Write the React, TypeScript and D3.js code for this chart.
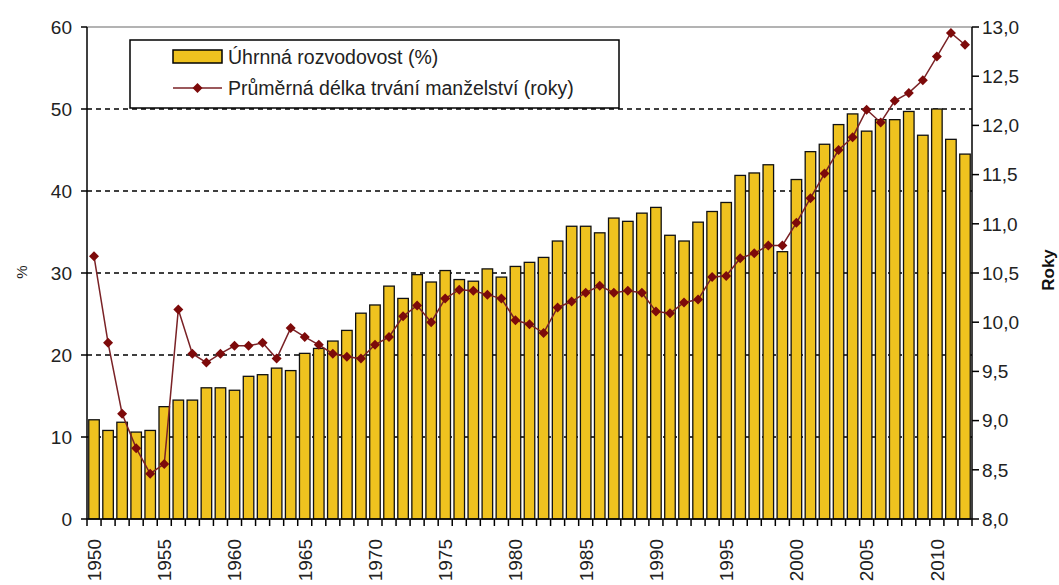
import * as d3 from "d3";

// categories: one per year
const years = d3.range(1950, 2013);

// Úhrnná rozvodovost (%), left axis
const divorceRate = [
  12.1, 10.8, 11.8, 10.6, 10.8, 13.7, 14.5, 14.5, 16.0, 16.0,
  15.7, 17.4, 17.6, 18.4, 18.1, 20.2, 20.8, 21.7, 23.0, 25.1,
  26.1, 28.4, 26.9, 29.8, 28.9, 30.3, 29.2, 29.0, 30.5, 29.5,
  30.8, 31.3, 31.9, 33.9, 35.7, 35.7, 34.9, 36.7, 36.3, 37.3,
  38.0, 34.6, 33.9, 36.2, 37.5, 38.6, 41.9, 42.2, 43.2, 32.6,
  41.4, 44.8, 45.7, 48.1, 49.4, 47.3, 48.7, 48.7, 49.7, 46.8,
  50.0, 46.3, 44.5,
];

// Průměrná délka trvání manželství (roky), right axis
const marriageLength = [
  10.67, 9.79, 9.07, 8.72, 8.46, 8.56, 10.13, 9.68, 9.59, 9.68,
  9.76, 9.76, 9.79, 9.63, 9.94, 9.85, 9.77, 9.68, 9.65, 9.63,
  9.77, 9.85, 10.06, 10.17, 10.0, 10.24, 10.33, 10.32, 10.28, 10.24,
  10.02, 9.98, 9.89, 10.15, 10.21, 10.3, 10.37, 10.3, 10.32, 10.3,
  10.11, 10.09, 10.2, 10.23, 10.46, 10.47, 10.65, 10.7, 10.78, 10.78,
  11.01, 11.26, 11.51, 11.75, 11.88, 12.16, 12.03, 12.25, 12.33, 12.46,
  12.7, 12.94, 12.82,
];

const leftTicks = [0, 10, 20, 30, 40, 50, 60];
const gridTicks = [10, 20, 30, 40, 50];
const rightTicks = [8, 8.5, 9, 9.5, 10, 10.5, 11, 11.5, 12, 12.5, 13];
const yearLabels = [1950, 1955, 1960, 1965, 1970, 1975, 1980, 1985, 1990, 1995, 2000, 2005, 2010];

const barLabel = "Úhrnná rozvodovost (%)";
const lineLabel = "Průměrná délka trvání manželství (roky)";

const W = 1059;
const H = 585;
const M = { top: 27, right: 87, bottom: 66, left: 87 };
const FONT = "'Liberation Sans', Arial, sans-serif";
const BAR = "#efc21f";
const LINE = "#7a2226";
const MARK = "#7d0a0a";

export default function App() {
  const x = d3
    .scaleBand<number>()
    .domain(years)
    .range([M.left, W - M.right])
    .paddingInner(0.25)
    .paddingOuter(0.125);
  const yL = d3.scaleLinear().domain([0, 60]).range([H - M.bottom, M.top]);
  const yR = d3.scaleLinear().domain([8, 13]).range([H - M.bottom, M.top]);

  const step = x.step();
  const cx = (yr: number) => (x(yr) ?? 0) + x.bandwidth() / 2;
  const boundaries = years.map((yr) => (x(yr) ?? 0) - (step - x.bandwidth()) / 2);
  boundaries.push(W - M.right);

  const line = d3
    .line<number>()
    .x((_, i) => cx(years[i]))
    .y((d) => yR(d));
  const diamond = d3.symbol(d3.symbolSquare, 50)() ?? "";
  const fmtR = (v: number) => d3.format(".1f")(v).replace(".", ",");

  const bottom = H - M.bottom;
  const right = W - M.right;

  return (
    <svg
      width={W}
      height={H}
      style={{ position: "absolute", left: 0, top: 0, background: "#fff" }}
      fontFamily={FONT}
    >
      {/* dashed gridlines behind the bars */}
      {gridTicks.map((t) => (
        <line
          key={t}
          x1={M.left}
          x2={right}
          y1={yL(t)}
          y2={yL(t)}
          stroke="#000"
          strokeWidth={1.5}
          strokeDasharray="5,4"
        />
      ))}
      <line x1={M.left} x2={right} y1={M.top} y2={M.top} stroke="#9a9a9a" strokeWidth={1.5} />

      {years.map((yr, i) => (
        <rect
          key={yr}
          x={x(yr)}
          y={yL(divorceRate[i])}
          width={x.bandwidth()}
          height={bottom - yL(divorceRate[i])}
          fill={BAR}
          stroke="#111"
          strokeWidth={1.3}
        />
      ))}

      <path d={line(marriageLength) ?? ""} fill="none" stroke={LINE} strokeWidth={1.5} />
      {marriageLength.map((v, i) => (
        <path
          key={i}
          d={diamond}
          transform={`translate(${cx(years[i])},${yR(v)}) rotate(45)`}
          fill={MARK}
        />
      ))}

      {/* axes */}
      <line x1={M.left} x2={M.left} y1={M.top} y2={bottom} stroke="#000" strokeWidth={1.5} />
      <line x1={right} x2={right} y1={M.top} y2={bottom} stroke="#000" strokeWidth={1.5} />
      <line x1={M.left} x2={right} y1={bottom} y2={bottom} stroke="#000" strokeWidth={1.5} />

      {leftTicks.map((t) => (
        <g key={t}>
          <line x1={M.left - 6} x2={M.left} y1={yL(t)} y2={yL(t)} stroke="#000" strokeWidth={1.5} />
          <text x={72} y={yL(t)} dy="0.36em" textAnchor="end" fontSize={19} fill="#222">
            {t}
          </text>
        </g>
      ))}
      {rightTicks.map((t) => (
        <g key={t}>
          <line x1={right} x2={right + 7} y1={yR(t)} y2={yR(t)} stroke="#000" strokeWidth={1.5} />
          <text x={982} y={yR(t)} dy="0.36em" textAnchor="start" fontSize={19} fill="#222">
            {fmtR(t)}
          </text>
        </g>
      ))}
      {boundaries.map((bx, i) => (
        <line key={i} x1={bx} x2={bx} y1={bottom} y2={bottom + 7} stroke="#000" strokeWidth={1.5} />
      ))}
      {yearLabels.map((yr) => (
        <text
          key={yr}
          transform={`translate(${cx(yr)},${bottom + 20}) rotate(-90)`}
          dy="0.36em"
          textAnchor="end"
          fontSize={19}
          fill="#222"
        >
          {yr}
        </text>
      ))}

      <text transform="translate(22,272) rotate(-90)" textAnchor="middle" dy="0.36em" fontSize={15} fill="#222">
        %
      </text>
      <text
        transform="translate(1048,270) rotate(-90)"
        textAnchor="middle"
        dy="0.36em"
        fontSize={17}
        fontWeight="bold"
        fill="#111"
      >
        Roky
      </text>

      {/* legend */}
      <rect x={130} y={40} width={489} height={68} fill="#fff" stroke="#000" strokeWidth={1.5} />
      <rect x={173} y={50} width={49} height={13} fill={BAR} stroke="#000" strokeWidth={1.5} />
      <text x={228} y={64} fontSize={19.5} fill="#222">
        {barLabel}
      </text>
      <line x1={173} x2={222} y1={88} y2={88} stroke={LINE} strokeWidth={1.5} />
      <path d={diamond} transform="translate(197.5,88) rotate(45)" fill={MARK} />
      <text x={228} y={95} fontSize={19.5} fill="#222">
        {lineLabel}
      </text>
    </svg>
  );
}
